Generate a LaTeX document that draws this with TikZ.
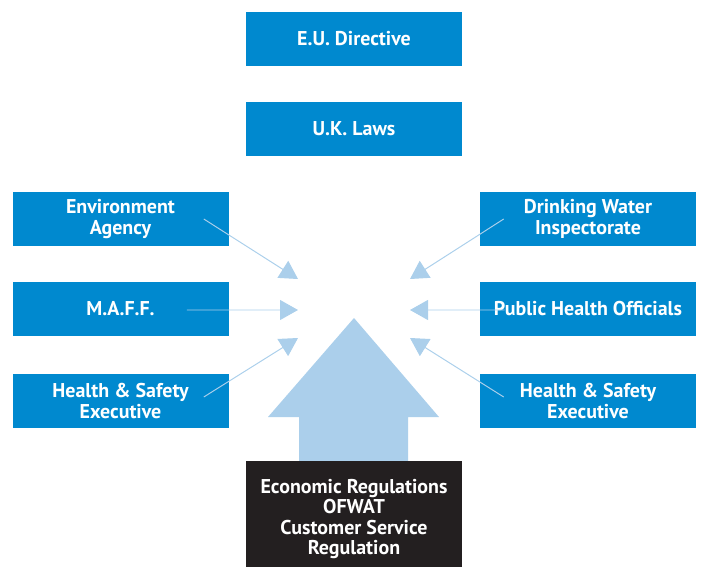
\documentclass[tikz,border=0pt]{standalone}
\usepackage{fontspec}
\setmainfont{PT Sans}
\usetikzlibrary{positioning,arrows.meta,calc}
\definecolor{boxblue}{RGB}{0,137,207}
\definecolor{paleblue}{RGB}{171,207,235}
\definecolor{boxblack}{RGB}{35,31,32}
\tikzset{
  agency/.style ={fill=boxblue, text=white, font=\fontsize{14.2}{14.4}\selectfont\bfseries,
                  minimum width=5.4cm, minimum height=1.35cm, align=center, inner sep=0pt},
  feed/.style   ={paleblue, line width=0.7pt, -{Triangle[length=4.5mm,width=5mm]}},
}
\begin{document}
\begin{tikzpicture}[line join=miter]
  \useasboundingbox (0,0) rectangle (17.75,-14.175);

  %--- Top boxes ---
  \node[agency] (eu) at (8.85,-0.975) {E.U. Directive};
  \node[agency] (uk) at (8.85,-3.225) {U.K. Laws};

  %--- Left column ---
  \node[agency] (env)  at (3.0125,-5.475)  {Environment\\Agency};
  \node[agency] (maff) at (3.0125,-7.725)  {M.A.F.F.};
  \node[agency] (hsl)  at (3.0125,-10.025) {Health \& Safety\\Executive};

  %--- Right column ---
  \node[agency] (dwi) at (14.7,-5.475)  {Drinking Water\\Inspectorate};
  \node[agency] (pho) at (14.7,-7.725)  {Public Health Officials};
  \node[agency] (hsr) at (14.7,-10.025) {Health \& Safety\\Executive};

  %--- Big upward arrow ---
  \fill[paleblue] (8.85,-7.95) -- (10.975,-10.425) -- (10.2,-10.425) -- (10.2,-11.6)
    -- (7.475,-11.6) -- (7.475,-10.425) -- (6.7,-10.425) -- cycle;

  %--- Bottom box (runs past the lower edge) ---
  \node[agency, fill=boxblack, minimum height=2.9cm] (ofwat) at (8.85,-12.975)
    {Economic Regulations\\OFWAT\\Customer Service\\Regulation};

  %--- Arrow tips around the centre ---
  \coordinate (tl) at (7.45,-6.975);
  \coordinate (ml) at (7.45,-7.75);
  \coordinate (bl) at (7.45,-8.45);
  \coordinate (tr) at (10.25,-6.975);
  \coordinate (mr) at (10.25,-7.75);
  \coordinate (br) at (10.25,-8.45);

  % feeds from the left
  \draw[feed] ($(env.east)+(-0.625,0)$) -- (tl);
  \draw[feed] ($(maff.east)+(-1.05,-0.025)$) -- (ml);
  \draw[feed] ($(hsl.east)+(-0.625,0.1)$) -- (bl);

  % feeds from the right
  \draw[feed] ($(dwi.west)+(0.6,0)$) -- (tr);
  \draw[feed] ($(pho.west)+(0.625,-0.025)$) -- (mr);
  \draw[feed] ($(hsr.west)+(0.6,0.1)$) -- (br);

\end{tikzpicture}
\end{document}
